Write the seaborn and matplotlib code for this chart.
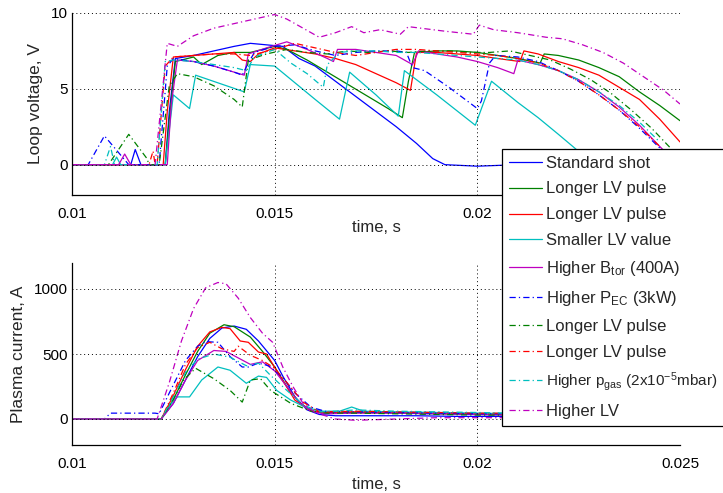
import numpy as np
import matplotlib
matplotlib.use("Agg")
import matplotlib.pyplot as plt
import seaborn as sns

# ---------------- top panel: loop voltage (time in ms, voltage in V) ----------------
tv_std = [10.0, 11.45, 11.56, 11.7, 12.3, 12.4, 12.55, 13.0, 13.5, 14.0, 14.4, 14.8, 15.2, 15.6, 16.0, 16.5, 17.0, 17.5, 18.0, 18.5, 18.9, 19.2, 19.6, 20.0, 20.5, 21.0, 22.0]
v_std = [0.0, 0.0, 1.0, 0.0, 0.0, 3.5, 7.0, 7.2, 7.5, 7.8, 8.0, 7.9, 7.8, 7.0, 6.5, 5.5, 4.5, 3.5, 2.5, 1.4, 0.4, 0.0, -0.05, -0.1, -0.05, 0.0, 0.0]

tv_lv1 = [10.0, 12.3, 12.4, 12.55, 13.0, 13.2, 13.6, 14.0, 14.4, 15.0, 15.3, 15.8, 16.3, 16.8, 17.3, 17.8, 18.15, 18.3, 18.45, 19.0, 19.5, 20.0, 20.5, 21.0, 21.55, 21.65, 22.0, 22.5, 23.0, 23.5, 24.0, 24.5, 25.0]
v_lv1 = [0.0, 0.0, 3.0, 6.8, 7.1, 6.6, 7.2, 7.4, 7.4, 7.8, 7.6, 6.9, 6.1, 5.3, 4.5, 3.7, 3.1, 5.5, 7.4, 7.5, 7.5, 7.4, 7.2, 7.0, 6.7, 7.3, 7.2, 6.9, 6.4, 5.8, 4.8, 3.9, 2.9]

tv_lv2 = [10.0, 12.25, 12.35, 12.5, 13.0, 13.5, 14.0, 14.2, 14.4, 14.6, 15.0, 15.5, 16.0, 16.5, 17.0, 17.5, 18.0, 18.35, 18.5, 19.0, 19.5, 20.0, 20.5, 21.05, 21.15, 21.5, 22.0, 22.5, 23.0, 23.5, 24.0, 24.5, 25.0]
v_lv2 = [0.0, 0.0, 3.5, 7.1, 7.2, 7.3, 7.4, 6.9, 6.8, 7.3, 7.7, 7.5, 7.3, 7.0, 6.6, 6.0, 5.4, 4.9, 7.4, 7.4, 7.3, 7.2, 7.0, 6.8, 7.5, 7.3, 6.8, 6.4, 5.9, 5.1, 4.3, 3.0, 1.5]

tv_small = [10.0, 11.0, 11.1, 11.2, 12.3, 12.5, 12.9, 13.05, 14.25, 14.4, 15.0, 15.5, 16.0, 16.6, 16.85, 17.5, 18.05, 18.2, 19.0, 19.95, 20.35, 21.0, 21.5, 22.0, 22.4, 23.0, 24.0]
v_small = [0.0, 0.0, 0.5, 0.0, 0.0, 4.6, 3.7, 5.9, 4.8, 6.6, 6.5, 5.4, 4.3, 3.0, 6.1, 4.6, 3.2, 6.2, 4.6, 2.6, 5.5, 4.1, 3.1, 2.0, 1.1, -0.3, -1.5]

tv_btor = [10.0, 11.15, 11.3, 11.45, 12.35, 12.45, 12.6, 13.0, 13.5, 14.0, 14.25, 14.35, 14.8, 15.3, 15.8, 16.3, 16.45, 16.55, 17.0, 17.5, 18.0, 18.4, 18.55, 19.0, 19.5, 20.0, 20.5, 20.9, 21.0, 21.5, 22.0, 22.5, 23.0, 23.5, 24.0, 24.5, 24.8]
v_btor = [0.0, 0.0, 0.7, 0.0, 0.0, 4.0, 6.9, 6.8, 6.5, 6.1, 5.9, 7.3, 7.7, 8.1, 7.6, 7.0, 6.8, 7.6, 7.6, 7.4, 7.2, 6.6, 7.5, 7.3, 7.1, 6.8, 6.4, 6.0, 6.9, 6.6, 6.2, 5.6, 4.8, 3.8, 2.6, 1.2, 0.4]

tv_pec = [10.0, 10.4, 10.8, 11.4, 12.15, 12.35, 12.5, 13.0, 13.5, 14.0, 14.2, 14.35, 14.5, 15.0, 15.5, 16.0, 16.5, 17.0, 17.5, 18.0, 18.25, 18.4, 18.7, 19.3, 20.0, 20.1, 20.3, 20.45, 21.0, 21.5, 22.0, 22.5, 23.0, 23.5, 24.0, 24.5, 24.8]
v_pec = [0.0, 0.0, 1.9, 0.0, 0.0, 6.5, 7.0, 6.8, 6.5, 6.1, 5.9, 6.7, 7.4, 7.8, 7.9, 7.5, 7.2, 7.4, 7.5, 7.5, 7.4, 6.4, 6.2, 5.1, 3.7, 4.2, 6.7, 7.2, 7.1, 6.8, 6.2, 5.5, 4.6, 3.6, 2.4, 1.1, 0.3]

tv_lv3 = [10.0, 10.9, 11.4, 11.85, 11.9, 12.15, 12.4, 12.6, 13.0, 13.5, 14.0, 14.2, 14.35, 14.8, 15.3, 15.8, 16.3, 16.8, 17.3, 17.8, 18.3, 18.8, 19.3, 19.8, 20.3, 20.8, 21.3, 21.8, 22.3, 22.8, 23.3, 23.8, 24.3, 24.8]
v_lv3 = [0.0, 0.0, 2.0, 0.4, 0.0, 0.0, 5.2, 6.0, 5.8, 5.2, 4.3, 3.8, 6.9, 7.3, 7.6, 7.4, 7.3, 7.5, 7.4, 7.5, 7.4, 7.5, 7.5, 7.4, 7.4, 7.5, 7.2, 6.9, 6.3, 5.6, 4.7, 3.6, 2.4, 1.0]

tv_lv4 = [10.0, 11.9, 12.0, 12.05, 12.1, 12.3, 12.5, 13.0, 13.5, 14.0, 14.4, 15.0, 15.5, 16.0, 16.5, 17.0, 17.5, 18.0, 18.5, 19.0, 19.5, 20.0, 20.5, 21.0, 21.5, 22.0, 22.5, 23.0, 23.5, 24.0, 24.5]
v_lv4 = [0.0, 0.0, 0.9, 0.0, 0.0, 6.5, 7.1, 7.2, 7.3, 7.3, 7.2, 7.6, 8.0, 7.7, 7.4, 7.2, 7.4, 7.6, 7.6, 7.5, 7.4, 7.3, 7.2, 7.0, 6.7, 6.2, 5.5, 4.6, 3.6, 2.5, 1.2]

tv_gas = [10.0, 10.8, 10.95, 11.05, 12.1, 12.3, 12.5, 13.0, 13.5, 14.0, 14.3, 14.5, 15.0, 15.4, 15.8, 16.2, 16.3, 16.6, 17.0, 17.5, 18.0, 18.5, 19.0, 19.5, 20.0, 20.5, 21.0, 21.5, 22.0, 22.5, 23.0, 23.5, 24.0, 24.5]
v_gas = [0.0, 0.0, 1.2, 0.0, 0.0, 6.8, 6.9, 6.8, 6.6, 6.4, 6.2, 7.1, 7.6, 6.7, 6.0, 5.1, 6.6, 7.4, 7.5, 7.5, 7.4, 7.4, 7.3, 7.2, 7.1, 7.0, 6.9, 6.6, 6.2, 5.6, 4.8, 3.9, 2.8, 1.5]

tv_hlv = [10.0, 12.05, 12.2, 12.35, 12.6, 13.0, 13.5, 14.0, 14.5, 15.0, 15.3, 15.7, 16.1, 16.5, 16.9, 17.2, 17.6, 18.1, 18.3, 18.6, 19.2, 19.9, 20.05, 20.4, 21.0, 21.7, 22.1, 22.6, 23.1, 23.6, 24.1, 24.6, 25.0]
v_hlv = [0.0, 0.0, 4.0, 8.0, 7.8, 8.5, 9.0, 9.3, 9.6, 9.9, 9.6, 9.0, 8.4, 8.7, 9.1, 8.7, 8.9, 8.6, 9.1, 9.0, 8.8, 8.6, 9.2, 8.9, 8.7, 8.4, 8.3, 7.9, 7.4, 6.7, 5.8, 4.9, 4.0]

# ---------------- bottom panel: plasma current (time in ms, current in A) ----------------
ti_std = [10.0, 12.2, 12.5, 12.8, 13.1, 13.4, 13.7, 14.0, 14.3, 14.6, 15.0, 15.2, 15.5, 15.8, 16.1, 16.5, 17.5, 18.5, 19.5, 20.5, 21.0]
i_std = [0, 0, 120, 300, 480, 620, 700, 715, 690, 600, 450, 330, 170, 70, 35, 25, 25, 25, 20, 20, 20]

ti_lv1 = [10.0, 12.2, 12.5, 12.8, 13.1, 13.4, 13.75, 14.0, 14.4, 14.7, 15.0, 15.3, 15.6, 15.9, 16.2, 17.0, 18.0, 19.0, 20.0, 21.0]
i_lv1 = [0, 0, 150, 340, 520, 660, 725, 710, 630, 520, 400, 250, 130, 65, 45, 50, 45, 40, 35, 30]

ti_lv2 = [10.0, 12.2, 12.5, 12.8, 13.1, 13.4, 13.7, 13.9, 14.15, 14.35, 14.6, 14.8, 15.15, 15.5, 15.9, 16.3, 17.0, 18.0, 19.0, 20.0, 21.0]
i_lv2 = [0, 0, 180, 380, 560, 670, 705, 695, 600, 590, 515, 500, 320, 145, 60, 50, 55, 50, 45, 40, 40]

ti_small = [10.0, 12.2, 12.45, 12.6, 12.9, 13.2, 13.6, 13.9, 14.3, 14.6, 14.8, 15.05, 15.4, 15.8, 16.2, 16.6, 16.9, 17.2, 18.0, 19.0, 20.0, 21.0]
i_small = [0, 0, 120, 170, 170, 300, 400, 375, 275, 330, 320, 220, 145, 84, 60, 60, 92, 60, 55, 50, 45, 40]

ti_btor = [10.0, 12.2, 12.5, 12.8, 13.1, 13.5, 13.8, 14.1, 14.4, 14.7, 15.0, 15.3, 15.6, 15.9, 16.2, 17.0, 18.0, 19.0, 20.0, 21.0]
i_btor = [0, 0, 120, 300, 450, 527, 520, 470, 420, 440, 370, 250, 130, 60, 40, 45, 45, 40, 35, 30]

ti_pec = [10.0, 10.8, 10.95, 12.05, 12.15, 12.4, 12.8, 13.1, 13.3, 13.6, 13.9, 14.2, 14.35, 14.6, 14.85, 15.2, 15.5, 15.9, 16.3, 17.0, 18.0, 19.0, 20.0, 21.0]
i_pec = [0, 0, 45, 45, 40, 200, 450, 560, 595, 590, 480, 400, 400, 430, 410, 320, 200, 90, 55, 55, 50, 45, 40, 40]

ti_lv3 = [10.0, 12.2, 12.5, 12.75, 13.05, 13.5, 13.9, 14.2, 14.4, 14.65, 14.9, 15.4, 15.9, 16.3, 17.0, 18.0, 19.0, 20.0, 21.0]
i_lv3 = [0, 0, 150, 300, 390, 310, 220, 130, 300, 310, 220, 120, 60, 45, 45, 40, 35, 30, 30]

ti_lv4 = [10.0, 12.2, 12.5, 12.8, 13.1, 13.4, 13.7, 14.0, 14.1, 14.4, 14.7, 15.0, 15.3, 15.7, 16.1, 17.0, 18.0, 19.0, 20.0, 21.0]
i_lv4 = [0, 0, 200, 420, 550, 590, 540, 520, 560, 490, 450, 390, 280, 130, 55, 60, 55, 50, 45, 45]

ti_gas = [10.0, 12.2, 12.5, 12.8, 13.1, 13.5, 13.9, 14.3, 14.6, 14.9, 15.3, 15.7, 16.1, 16.5, 17.0, 18.0, 19.0, 20.0, 21.0]
i_gas = [0, 0, 170, 360, 460, 500, 475, 410, 430, 335, 220, 110, 55, 60, 70, 60, 55, 50, 45]

ti_hlv = [10.0, 12.1, 12.4, 12.7, 13.0, 13.3, 13.6, 13.8, 14.1, 14.4, 14.7, 14.95, 15.2, 15.45, 15.7, 16.0, 16.5, 17.0, 18.0, 19.0, 20.0, 21.0]
i_hlv = [0, 0, 280, 600, 850, 1010, 1050, 1040, 930, 780, 660, 590, 400, 250, 120, 50, 0, -10, 0, 10, 10, 10]

series_labels = [
    "Standard shot",
    "Longer LV pulse",
    "Longer LV pulse",
    "Smaller LV value",
    "Higher B$_{\\mathrm{tor}}$ (400A)",
    "Higher P$_{\\mathrm{EC}}$ (3kW)",
    "Longer LV pulse",
    "Longer LV pulse",
    "Higher p$_{\\mathrm{gas}}$ (2x10$^{\\mathrm{-5}}$mbar)",
    "Higher LV",
]
xtick_values = [0.01, 0.015, 0.02, 0.025]
xtick_labels = ["0.01", "0.015", "0.02", "0.025"]
ytick_top = [0, 5, 10]
ytick_bottom = [0, 500, 1000]

# ---------------- styles ----------------
colors = ["#0000ff", "#008000", "#ff0000", "#00bfbf", "#bf00bf"] * 2
dashdot = (0, (5, 2.5, 1, 2.5))
styles = ["-"] * 5 + [dashdot] * 5

top_series = [(tv_std, v_std), (tv_lv1, v_lv1), (tv_lv2, v_lv2), (tv_small, v_small),
              (tv_btor, v_btor), (tv_pec, v_pec), (tv_lv3, v_lv3), (tv_lv4, v_lv4),
              (tv_gas, v_gas), (tv_hlv, v_hlv)]
bottom_series = [(ti_std, i_std), (ti_lv1, i_lv1), (ti_lv2, i_lv2), (ti_small, i_small),
                 (ti_btor, i_btor), (ti_pec, i_pec), (ti_lv3, i_lv3), (ti_lv4, i_lv4),
                 (ti_gas, i_gas), (ti_hlv, i_hlv)]

sns.set_style("white")
plt.rcParams["font.family"] = ["Liberation Sans", "DejaVu Sans"]
plt.rcParams["mathtext.fontset"] = "custom"
plt.rcParams["mathtext.rm"] = "Liberation Sans"
plt.rcParams["mathtext.it"] = "Liberation Sans:italic"
plt.rcParams["mathtext.bf"] = "Liberation Sans:bold"

W, H = 723, 493
fig = plt.figure(figsize=(W / 100, H / 100), dpi=100, facecolor="white")
ax_top = fig.add_axes([72 / W, 1 - 195 / H, 608 / W, 182 / H])
ax_bot = fig.add_axes([72 / W, 1 - 445 / H, 608 / W, 182 / H])

for ax, data in ((ax_top, top_series), (ax_bot, bottom_series)):
    for k, (t, y) in enumerate(data):
        sns.lineplot(x=np.asarray(t) / 1000.0, y=y, ax=ax, color=colors[k],
                     linestyle=styles[k], linewidth=0.9, estimator=None, sort=False,
                     label=series_labels[k], legend=False)

def style_axes(ax, yticks, ylim, ylabel, ylabel_x, xlabel_y):
    ax.set_xlim(0.01, 0.025)
    ax.set_ylim(*ylim)
    ax.set_xticks(xtick_values, labels=xtick_labels)
    ax.set_yticks(yticks, labels=[str(v) for v in yticks])
    ax.grid(True, linestyle=(0, (1, 3)), color="black", linewidth=0.7)
    ax.set_axisbelow(False)
    for s in ("top", "right"):
        ax.spines[s].set_visible(False)
    for s in ("left", "bottom"):
        ax.spines[s].set_color("black")
        ax.spines[s].set_linewidth(0.9)
    ax.tick_params(axis="both", direction="in", length=4, width=0.7, labelsize=11,
                   colors="black")
    ax.tick_params(axis="x", pad=9)
    ax.tick_params(axis="y", pad=3)
    ax.set_ylabel(ylabel, fontsize=12.5)
    ax.yaxis.set_label_coords(ylabel_x, 0.5)
    ax.set_xlabel("time, s", fontsize=12)
    ax.xaxis.set_label_coords(0.5, xlabel_y)
    ax.set_facecolor("white")

style_axes(ax_top, ytick_top, (-2, 10), "Loop voltage, V", (43 - 72) / 608, -0.14)
style_axes(ax_bot, ytick_bottom, (-200, 1200), "Plasma current, A", (26 - 72) / 608, -0.175)

# the top panel's last tick label sits fully behind the legend in the reference
ax_top.get_xticklabels()[-1].set_visible(False)

handles, labels = ax_top.get_legend_handles_labels()
leg = fig.legend(handles, labels, loc="upper left",
                 bbox_to_anchor=(502 / W, 1 - 149 / H), bbox_transform=fig.transFigure,
                 frameon=True, fancybox=False, framealpha=1, edgecolor="black",
                 fontsize=12, handlelength=2.0, handletextpad=0.25, borderpad=0.4,
                 labelspacing=0.65, borderaxespad=0)
leg.get_frame().set_linewidth(0.9)
leg.get_texts()[8].set_fontsize(11)

fig.savefig("out.png", dpi=100, facecolor="white")
